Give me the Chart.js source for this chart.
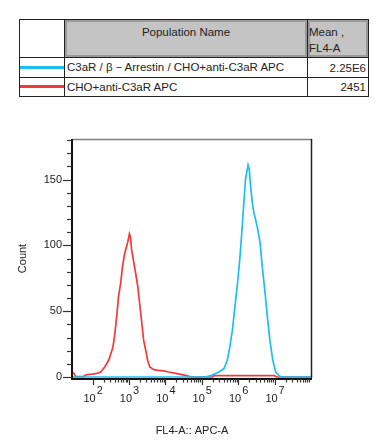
<!DOCTYPE html>
<html>
<head>
<meta charset="utf-8">
<script src="https://cdn.jsdelivr.net/npm/chart.js@4"></script>
<style>
  html, body { margin: 0; padding: 0; background: #fff; }
  body { width: 391px; height: 442px; position: relative; overflow: hidden; font-family: "Liberation Sans", Arial, sans-serif; color: #222; }
  #chart { position: absolute; left: 0; top: 0; }
  table { position: absolute; left: 19px; top: 19px; border-collapse: collapse; table-layout: fixed; font-size: 11.5px; border: 1px solid #555; z-index: 2; background: #fff; }
  td { border: 1px solid #222; padding: 0; white-space: nowrap; overflow: hidden; box-sizing: border-box; }
  tr.head { height: 38px; }
  tr.head td { vertical-align: top; }
  tr.head td.gray { background: #c4c4c4; box-shadow: inset 0 0 0 2px #9a9a9a; }
  tr.row { height: 20px; }
  td.name { padding-left: 2px; }
  td.val { text-align: right; padding-right: 2px; }
  td.key { position: relative; }
  td.key div { position: absolute; left: 0; right: 0; top: 50%; height: 3px; margin-top: -2px; }
</style>
</head>
<body>
<table>
  <colgroup><col style="width:45px"><col style="width:243px"><col style="width:61px"></colgroup>
  <tr class="head">
    <td></td>
    <td class="gray"><div style="text-align:center;padding-top:5px;line-height:14px;">Population Name</div></td>
    <td class="gray"><div style="line-height:16px;padding:4px 0 0 1px;">Mean ,<br>FL4-A</div></td>
  </tr>
  <tr class="row">
    <td class="key"><div style="background:#1cbff0"></div></td>
    <td class="name">C3aR / β－Arrestin / CHO+anti-C3aR APC</td>
    <td class="val">2.25E6</td>
  </tr>
  <tr class="row" style="height:19px">
    <td class="key"><div style="background:#f23a3a"></div></td>
    <td class="name">CHO+anti-C3aR APC</td>
    <td class="val">2451</td>
  </tr>
</table>
<canvas id="chart" width="391" height="442"></canvas>
<script>
// FL4-A (APC-A) channel values and event counts
const blueX = [28.8, 126000, 174000, 295000, 407000, 501000, 589000, 692000, 794000, 955000,
  1120000, 1290000, 1450000, 1580000, 1860000, 2000000, 2190000, 2450000, 2690000, 3310000,
  3980000, 4570000, 5370000, 6310000, 7410000, 8910000, 10700000, 13200000, 15500000, 100000000];
const blueCount = [0, 0, 1, 3.8, 6.4, 12.7, 23, 35.6, 51, 71,
  91.6, 114.5, 135, 150, 161, 158, 145, 132, 125, 114.5,
  102, 84, 66, 46, 28, 12.7, 3.8, 1, 0, 0];

const redX = [28.8, 31, 34, 55, 65, 80, 100, 130, 166, 214, 275, 355, 398, 457, 513, 589, 661, 759,
  912, 1023, 1096, 1175, 1349, 1514, 1738, 1950, 2239, 2512, 2884, 3236, 3715, 4786, 6457,
  8913, 12300, 17800, 26300, 38000, 50000, 200000, 214000, 1000000, 10000000, 11200000, 100000000];
const redCount = [3.5, 2.5, 0.3, 0.3, 1.5, 2, 2.2, 2.8, 3.8, 7.6, 12.7, 22, 30.5, 45.8, 61, 71.5, 84, 94,
  102, 108.7, 106, 96.7, 86.8, 79, 68.7, 56, 41, 28, 20, 12.7, 7.6, 5.6, 5,
  4.6, 3.8, 3, 2, 1, 0, 0, 1, 1, 1, 0, 0];

const xDecades = [2, 3, 4, 5, 6, 7];
const yLabels = [0, 50, 100, 150];

const toPoints = (xs, ys) => xs.map((v, i) => ({ x: v, y: ys[i] }));

const flowAxes = {
  id: 'flowAxes',
  beforeDatasetsDraw(chart) {
    const { ctx, chartArea: a, scales: { x, y } } = chart;
    ctx.save();
    // frame
    ctx.lineWidth = 1.5;
    ctx.strokeStyle = '#808080';
    ctx.beginPath(); ctx.moveTo(a.left, a.top - 0.5); ctx.lineTo(a.right + 1, a.top - 0.5); ctx.stroke();
    ctx.strokeStyle = '#222';
    ctx.beginPath(); ctx.moveTo(a.right + 0.5, a.top - 1); ctx.lineTo(a.right + 0.5, a.bottom + 1); ctx.stroke();
    ctx.lineWidth = 2;
    ctx.strokeStyle = '#111';
    ctx.beginPath(); ctx.moveTo(a.left - 1, a.top - 1); ctx.lineTo(a.left - 1, a.bottom + 2); ctx.lineTo(a.right + 1, a.bottom + 2); ctx.stroke();

    // y ticks
    ctx.lineWidth = 1.2;
    ctx.strokeStyle = '#333';
    for (let v = 0; v <= 180; v += 10) {
      const py = Math.round(y.getPixelForValue(v)) + 0.5;
      const len = v % 50 === 0 ? 8 : 4;
      ctx.beginPath(); ctx.moveTo(a.left - 2 - len, py); ctx.lineTo(a.left - 1, py); ctx.stroke();
    }
    // x ticks (log decades with minor ticks)
    xDecades.forEach(e => {
      for (let m = 1; m <= 9; m++) {
        const px = Math.round(x.getPixelForValue(m * Math.pow(10, e))) + 0.5;
        const len = m === 1 ? 6 : 3.5;
        ctx.beginPath(); ctx.moveTo(px, a.bottom + 2); ctx.lineTo(px, a.bottom + 2 + len); ctx.stroke();
      }
    });
    ctx.restore();
  },
  afterDraw(chart) {
    const { ctx, chartArea: a, scales: { x, y } } = chart;
    ctx.save();
    ctx.fillStyle = '#222';
    ctx.font = '11px "Liberation Sans", Arial, sans-serif';
    ctx.textBaseline = 'middle';
    ctx.textAlign = 'right';
    yLabels.forEach(v => ctx.fillText(String(v), a.left - 11, y.getPixelForValue(v)));

    ctx.textBaseline = 'alphabetic';
    xDecades.forEach(e => {
      const px = x.getPixelForValue(Math.pow(10, e));
      ctx.textAlign = 'right';
      ctx.fillText('10', px + 3, 402);
      ctx.textAlign = 'left';
      ctx.fillText(String(e), px + 4, 394);
    });

    ctx.textAlign = 'center';
    ctx.textBaseline = 'middle';
    ctx.fillText('FL4-A:: APC-A', (a.left + a.right) / 2, 431);
    ctx.translate(22.5, (a.top + a.bottom) / 2);
    ctx.rotate(-Math.PI / 2);
    ctx.fillText('Count', 0, 0);
    ctx.restore();
  }
};

new Chart(document.getElementById('chart').getContext('2d'), {
  type: 'scatter',
  data: {
    datasets: [
      {
        label: 'C3aR / β－Arrestin / CHO+anti-C3aR APC',
        data: toPoints(blueX, blueCount),
        showLine: true,
        borderColor: '#1cbff0',
        borderWidth: 1.7,
        pointRadius: 0,
        clip: false
      },
      {
        label: 'CHO+anti-C3aR APC',
        data: toPoints(redX, redCount),
        showLine: true,
        borderColor: '#f23a3a',
        borderWidth: 1.7,
        pointRadius: 0,
        clip: false
      }
    ]
  },
  options: {
    responsive: false,
    animation: false,
    layout: { padding: { left: 73, right: 80, top: 140, bottom: 65 } },
    plugins: { legend: { display: false }, tooltip: { enabled: false } },
    scales: {
      x: { type: 'logarithmic', min: 28.8, max: 100000000, display: false },
      y: { type: 'linear', min: 0, max: 180, display: false }
    }
  },
  plugins: [flowAxes]
});
</script>
</body>
</html>
